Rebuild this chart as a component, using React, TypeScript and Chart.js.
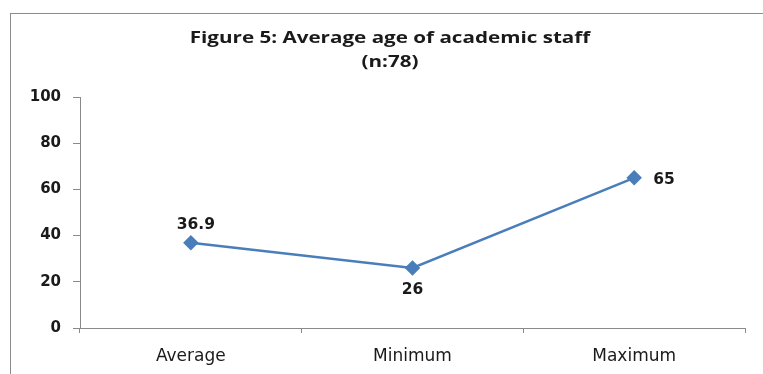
import React, { useEffect, useRef } from "react";
import { Chart, registerables } from "chart.js";

Chart.register(...registerables);

const categories = ["Average", "Minimum", "Maximum"];
const ages = [36.9, 26, 65];
const dataLabels = ["36.9", "26", "65"];
const labelPlacement = ["above", "below", "right"];
const yTicks = [0, 20, 40, 60, 80, 100];
const titleLines = ["Figure 5: Average age of academic staff", "(n:78)"];

const lineColor = "#4A7EBB";
const axisColor = "#8a8a8a";
const textColor = "#1a1a1a";

// Title drawn as canvas text, slightly widened like the original figure
const titlePlugin = {
  id: "stretchedTitle",
  afterDraw(chart: any) {
    const ctx = chart.ctx;
    ctx.save();
    ctx.font = "bold 16.5px 'Open Sans'";
    ctx.fillStyle = textColor;
    ctx.textAlign = "center";
    ctx.textBaseline = "middle";
    const cx = 390;
    const stretch = 1.25;
    titleLines.forEach((line, i) => {
      ctx.save();
      ctx.translate(cx, 38 + i * 24);
      ctx.scale(stretch, 1);
      ctx.fillText(line, 0, 0);
      ctx.restore();
    });
    ctx.restore();
  },
};

const valueLabelPlugin = {
  id: "valueLabels",
  afterDatasetsDraw(chart: any) {
    const ctx = chart.ctx;
    const meta = chart.getDatasetMeta(0);
    ctx.save();
    ctx.font = "bold 15.5px 'DejaVu Sans'";
    ctx.fillStyle = textColor;
    meta.data.forEach((pt: any, i: number) => {
      const place = labelPlacement[i];
      let x = pt.x;
      let y = pt.y;
      if (place === "above") {
        ctx.textAlign = "center";
        ctx.textBaseline = "middle";
        x += 5;
        y -= 18;
      } else if (place === "below") {
        ctx.textAlign = "center";
        ctx.textBaseline = "middle";
        y += 22;
      } else {
        ctx.textAlign = "left";
        ctx.textBaseline = "middle";
        x += 19;
        y += 2;
      }
      ctx.fillText(dataLabels[i], x, y);
    });
    ctx.restore();
  },
};

export default function App() {
  const canvasRef = useRef<HTMLCanvasElement | null>(null);

  useEffect(() => {
    if (!canvasRef.current) return;
    const chart = new Chart(canvasRef.current, {
      type: "line",
      data: {
        labels: categories,
        datasets: [
          {
            data: ages,
            borderColor: lineColor,
            backgroundColor: lineColor,
            borderWidth: 2.5,
            pointStyle: "rectRot",
            pointRadius: 6,
            pointBackgroundColor: lineColor,
            pointBorderColor: lineColor,
            tension: 0,
          },
        ],
      },
      options: {
        animation: false,
        responsive: false,
        maintainAspectRatio: false,
        layout: { padding: { left: 0, right: 18, top: 97, bottom: 0 } },
        plugins: {
          legend: { display: false },
          tooltip: { enabled: false },
          title: { display: false },
        },
        scales: {
          x: {
            offset: true,
            grid: {
              offset: true,
              drawOnChartArea: false,
              drawTicks: true,
              tickLength: 5,
              color: axisColor,
            },
            border: { display: true, color: axisColor, width: 1 },
            ticks: {
              color: textColor,
              font: { family: "'DejaVu Sans'", size: 17 },
              padding: 13,
            },
            afterFit: (scale: any) => {
              scale.height = 46;
            },
          },
          y: {
            min: 0,
            max: 100,
            afterBuildTicks: (scale: any) => {
              scale.ticks = yTicks.map((v) => ({ value: v }));
            },
            grid: {
              drawOnChartArea: false,
              drawTicks: true,
              tickLength: 7,
              color: axisColor,
            },
            border: { display: true, color: axisColor, width: 1 },
            ticks: {
              color: textColor,
              font: { family: "'DejaVu Sans'", size: 15, weight: "bold" },
              padding: 12,
            },
            afterFit: (scale: any) => {
              scale.width = 80;
            },
          },
        },
      },
      plugins: [valueLabelPlugin, titlePlugin],
    });
    return () => chart.destroy();
  }, []);

  return (
    <div
      style={{
        position: "fixed",
        left: 0,
        top: 0,
        width: 763,
        height: 374,
        background: "#ffffff",
        overflow: "hidden",
      }}
    >
      <div
        style={{
          position: "absolute",
          left: 10,
          top: 13,
          width: 800,
          height: 400,
          border: "1px solid #8c8c8c",
        }}
      />
      <canvas
        ref={canvasRef}
        width={763}
        height={374}
        style={{ position: "absolute", left: 0, top: 0 }}
      />
    </div>
  );
}
